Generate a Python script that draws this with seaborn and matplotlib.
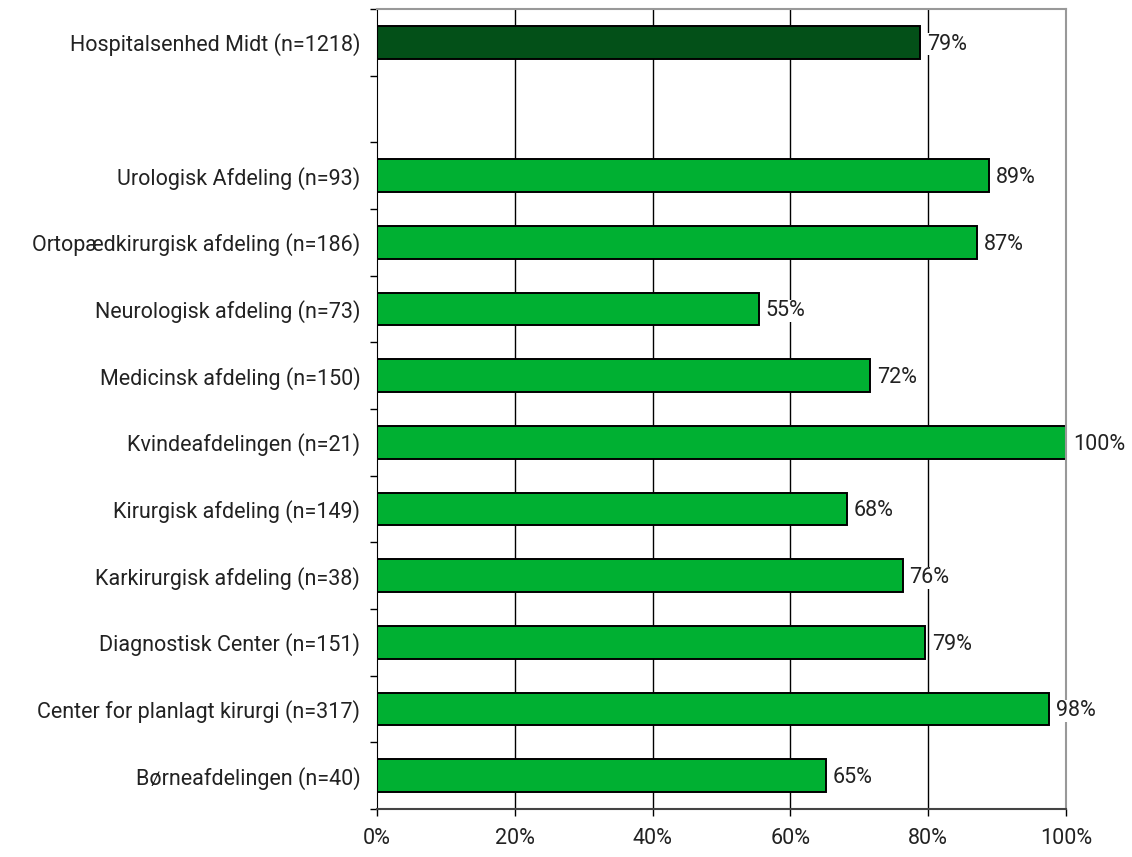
import pandas as pd
import seaborn as sns
import matplotlib.pyplot as plt
from matplotlib.ticker import FixedLocator, PercentFormatter

# data (share in %)
afdelinger = ["Hospitalsenhed Midt (n=1218)",
              "Urologisk Afdeling (n=93)",
              "Ortopædkirurgisk afdeling (n=186)",
              "Neurologisk afdeling (n=73)",
              "Medicinsk afdeling (n=150)",
              "Kvindeafdelingen (n=21)",
              "Kirurgisk afdeling (n=149)",
              "Karkirurgisk afdeling (n=38)",
              "Diagnostisk Center (n=151)",
              "Center for planlagt kirurgi (n=317)",
              "Børneafdelingen (n=40)"]
andel = [78.8, 88.8, 87.1, 55.4, 71.6, 100.0, 68.2, 76.3, 79.5, 97.5, 65.2]
labels = ["79%", "89%", "87%", "55%", "72%", "100%", "68%", "76%", "79%", "98%", "65%"]
gruppe = ["total"] + ["afdeling"] * 10

df = pd.DataFrame({"afdeling": afdelinger, "andel": andel, "gruppe": gruppe})
# blank slot between the total and the departments
order = [afdelinger[0], " "] + afdelinger[1:]

sns.set_style("white")
plt.rcParams["font.family"] = ["Roboto", "DejaVu Sans"]
fs = 15.5

fig = plt.figure(figsize=(11.32, 8.57), dpi=100)
ax = fig.add_axes([377 / 1132, 1 - 809 / 857, 689 / 1132, 800 / 857])

sns.barplot(data=df, y="afdeling", x="andel", hue="gruppe", order=order,
            palette={"total": "#035018", "afdeling": "#00b032"}, saturation=1,
            edgecolor="black", linewidth=1.4, width=0.49,
            legend=False, ax=ax, zorder=3)

# gridlines at 20..80
for v in [20, 40, 60, 80]:
    ax.axvline(v, color="black", lw=1, zorder=1)

# value labels
for cont in ax.containers:
    for bar in cont:
        w = bar.get_width()
        if pd.isna(w) or w == 0:
            continue
        y = bar.get_y() + bar.get_height() / 2
        i = afdelinger.index(order[int(round(y))])
        ax.text(w + 1.0, y + 0.03, labels[i], va="center", ha="left", fontsize=fs,
                color="#222222", zorder=7, clip_on=False,
                bbox=dict(facecolor="white", edgecolor="none", pad=0.5))

ax.set_xlim(0, 100)
ax.set_ylim(len(order) - 0.5, -0.5)
ax.set_xticks([0, 20, 40, 60, 80, 100])
ax.xaxis.set_major_formatter(PercentFormatter(decimals=0))
ax.set_xlabel("")
ax.set_ylabel("")

# y ticks between categories, labels on centres
ax.yaxis.set_minor_locator(FixedLocator([k - 0.5 for k in range(len(order) + 1)]))
ax.tick_params(axis="y", which="major", length=0, pad=12, labelsize=fs, labelcolor="#222222")
ax.tick_params(axis="y", which="minor", left=True, length=5, width=1, color="black", direction="out")
ax.tick_params(axis="x", which="major", bottom=True, length=5, width=1, color="black",
               direction="out", pad=9, labelsize=fs, labelcolor="#222222")

for s in ["top", "right"]:
    ax.spines[s].set_color("#999999")
    ax.spines[s].set_linewidth(1.5)
ax.spines["left"].set_color("black")
ax.spines["bottom"].set_color("#444444")
ax.spines["bottom"].set_linewidth(1.5)
for s in ax.spines.values():
    s.set_zorder(5)

fig.savefig("out.png", dpi=100)
